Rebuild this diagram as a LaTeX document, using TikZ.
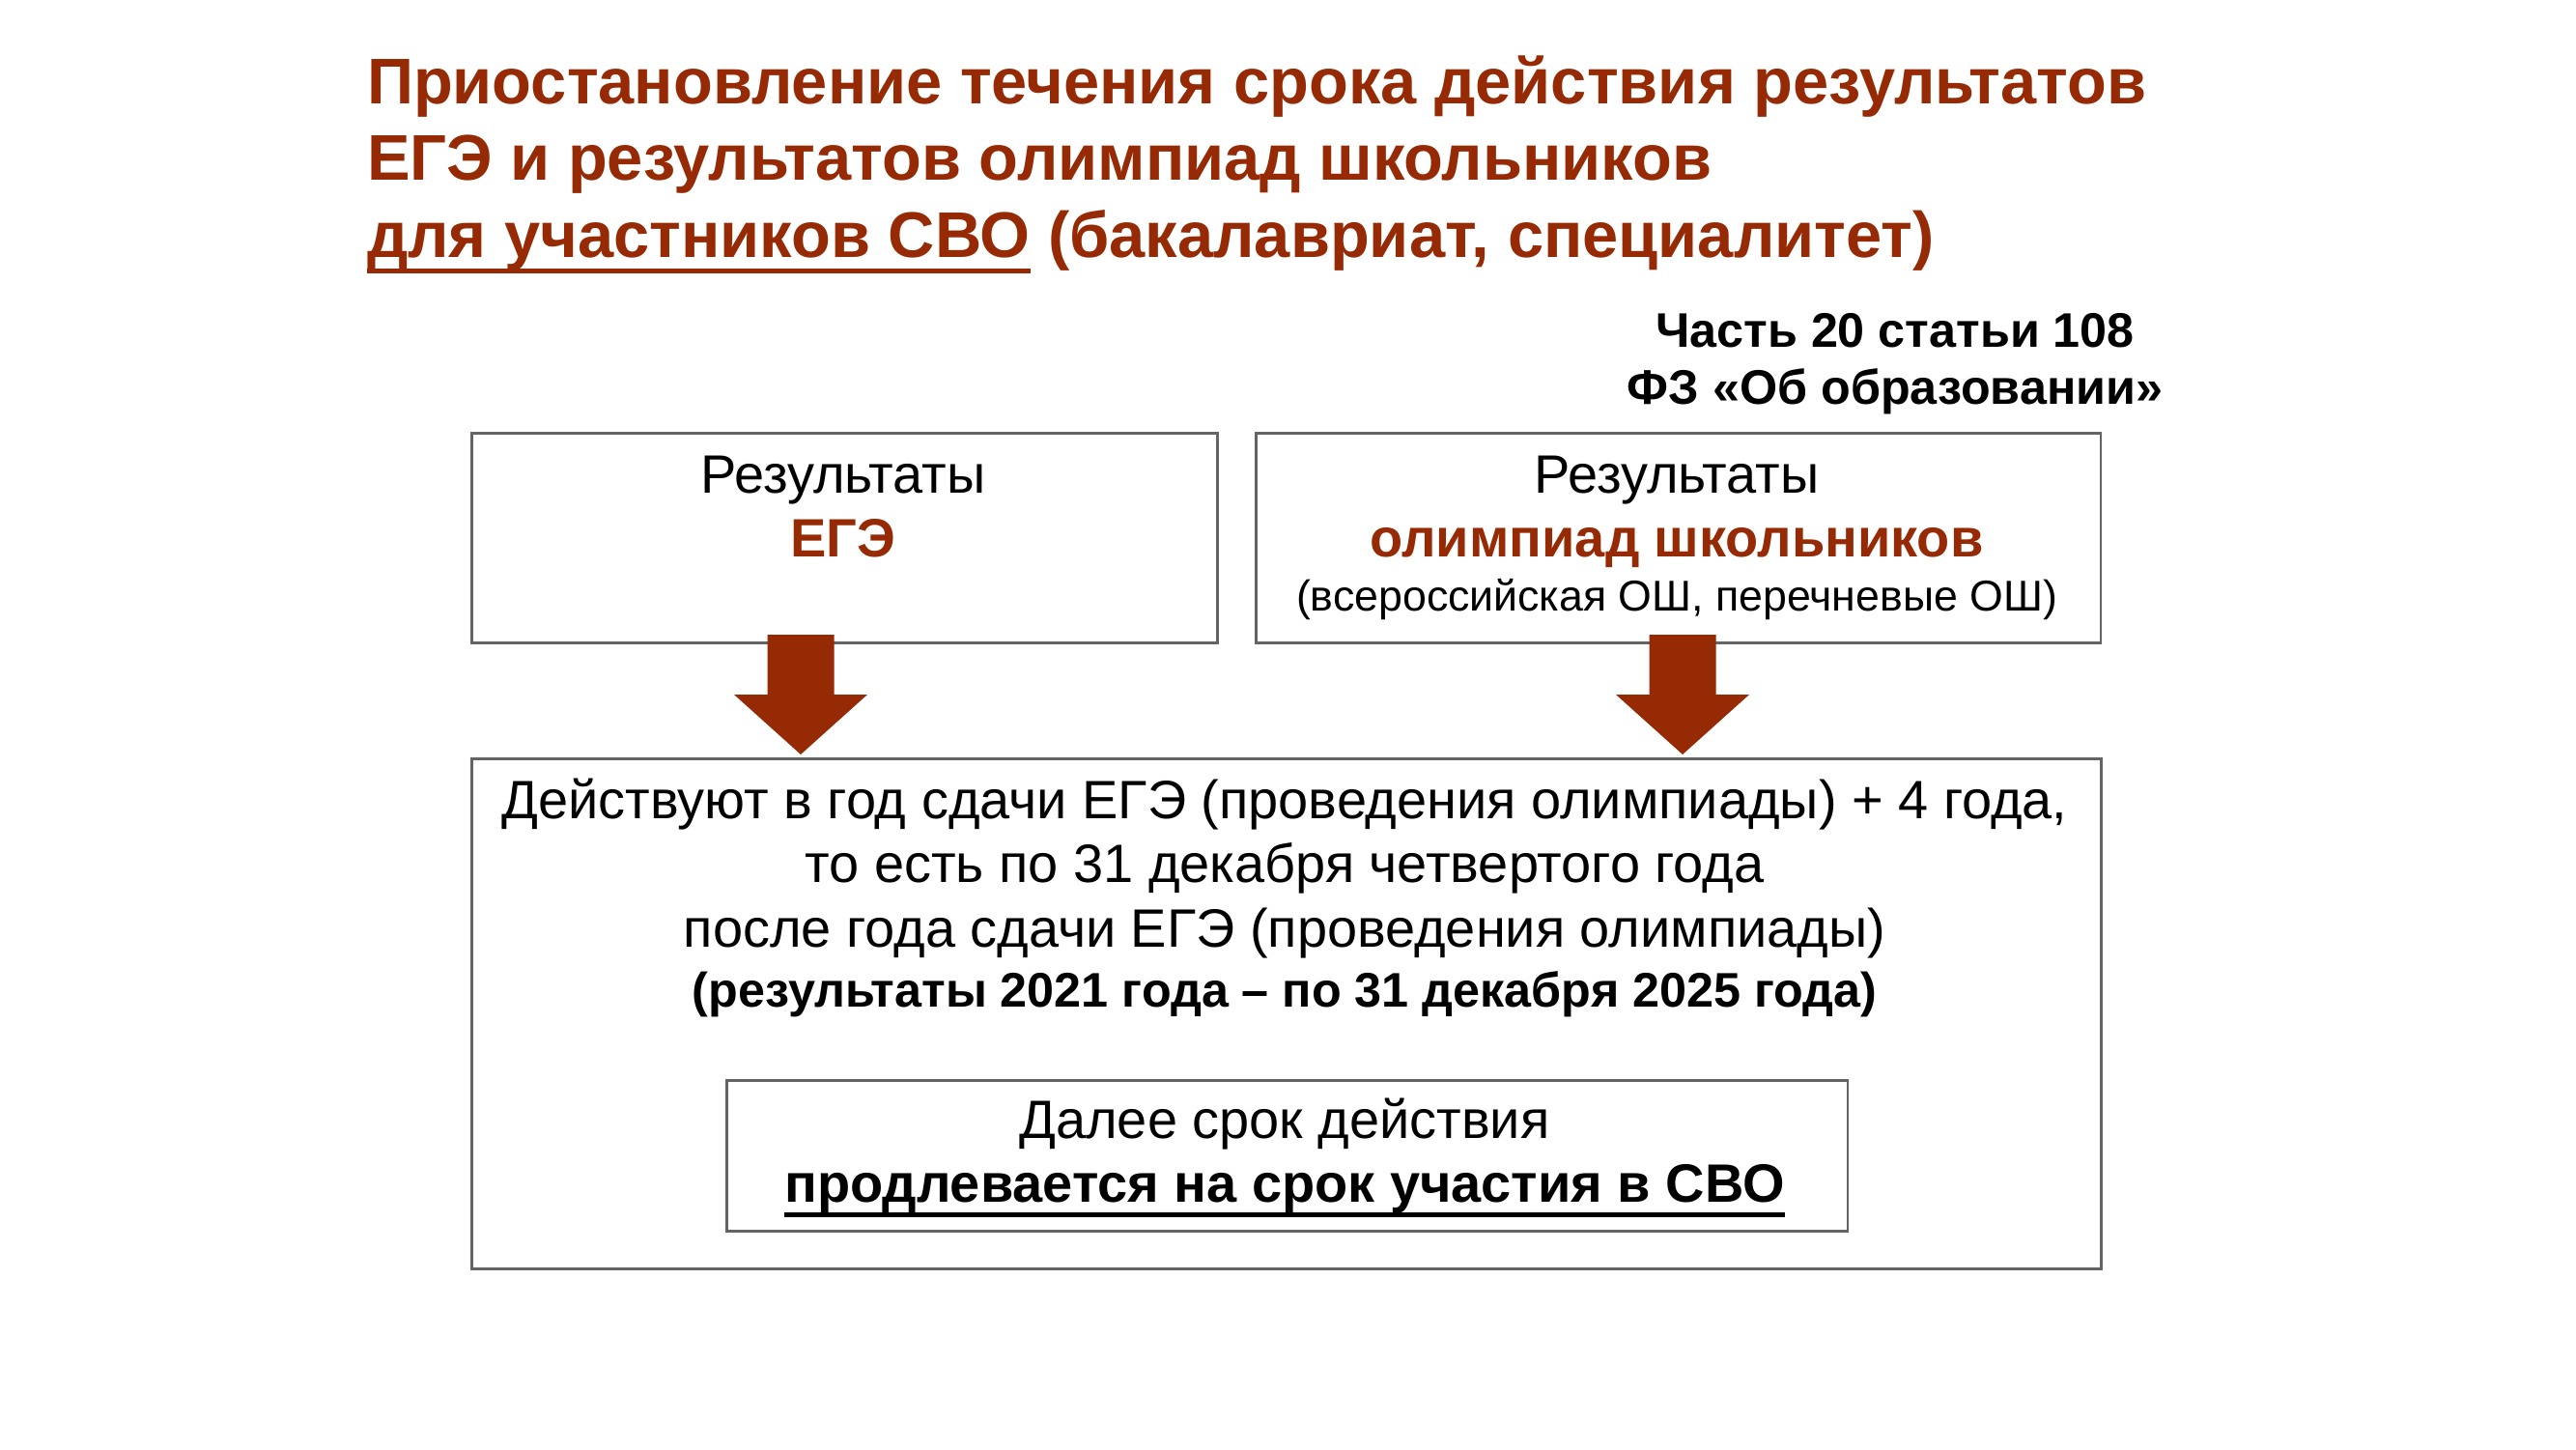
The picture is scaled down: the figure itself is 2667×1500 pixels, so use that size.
\documentclass[tikz,border=0pt]{standalone}
\usepackage{fontspec}
\setmainfont{Liberation Sans}
\definecolor{maroon}{RGB}{150,42,5}
\definecolor{boxgray}{RGB}{100,100,100}
\tikzset{
  box/.style={draw=boxgray,line width=0.75pt,fill=white,inner sep=0pt,anchor=north west},
  txt/.style={anchor=base,inner sep=0pt,outer sep=0pt},
  titletxt/.style={txt,anchor=base west,text=maroon,font=\fontsize{19}{22}\selectfont\bfseries},
  lawtxt/.style={txt,font=\fontsize{14.3}{17}\selectfont\bfseries},
  bodytxt/.style={txt,font=\fontsize{15.9}{19}\selectfont},
  boldbody/.style={bodytxt,font=\fontsize{15.9}{19}\selectfont\bfseries},
  bigarrow/.style={fill=maroon,draw=none},
  uline/.style={line width=1.4pt}
}
\begin{document}
\begin{tikzpicture}[x=0.01cm,y=-0.01cm]
\useasboundingbox[fill=white] (0,0) rectangle (2667,1500);
% title
\node[titletxt] (t1) at (380,108) {Приостановление течения срока действия результатов};
\node[titletxt] (t2) at (380,187) {ЕГЭ и результатов олимпиад школьников};
\node[titletxt] (t3a) at (380,266) {для участников СВО};
\node[titletxt] (t3b) at (t3a.base east) {\ (бакалавриат, специалитет)};
\draw[uline,draw=maroon] ([yshift=-4.2pt]t3a.base west) -- ([yshift=-4.2pt]t3a.base east);
% law reference
\node[lawtxt] (law1) at (1962,359) {Часть 20 статьи 108};
\node[lawtxt] (law2) at (1962,418) {ФЗ «Об образовании»};
% boxes
\node[box,minimum width=7.72cm,minimum height=2.17cm] (ege) at (487,447) {};
\node[box,minimum width=8.74cm,minimum height=2.17cm] (olymp) at (1299,447) {};
\node[box,minimum width=16.86cm,minimum height=5.28cm] (valid) at (487,784) {};
% arrows
\coordinate (a1) at (829,657);
\coordinate (a2) at (1742,657);
\fill[bigarrow] (a1) ++(-34.5,0) -- ++(69,0) -- ++(0,62) -- ++(34.5,0) -- ++(-69,62) -- ++(-69,-62) -- ++(34.5,0) -- cycle;
\fill[bigarrow] (a2) ++(-34.5,0) -- ++(69,0) -- ++(0,62) -- ++(34.5,0) -- ++(-69,62) -- ++(-69,-62) -- ++(34.5,0) -- cycle;
% inner box
\node[box,minimum width=11.60cm,minimum height=1.56cm] (ext) at (751,1117) {};
% box texts
\node[bodytxt] (egeR) at (873,510) {Результаты};
\node[boldbody,text=maroon] (egeE) at (873,576) {ЕГЭ};
\node[bodytxt] (olR) at (1736,510) {Результаты};
\node[boldbody,text=maroon] (olO) at (1736,576) {олимпиад школьников};
\node[bodytxt,font=\fontsize{12.7}{15}\selectfont] (olS) at (1736,632) {(всероссийская ОШ, перечневые ОШ)};
% main text
\node[bodytxt] (m1) at (1330,847) {Действуют в год сдачи ЕГЭ (проведения олимпиады) + 4 года,};
\node[bodytxt] (m2) at (1330,913) {то есть по 31 декабря четвертого года};
\node[bodytxt] (m3) at (1330,980) {после года сдачи ЕГЭ (проведения олимпиады)};
\node[boldbody,font=\fontsize{14.3}{17}\selectfont\bfseries] (m4) at (1330,1042) {(результаты 2021 года – по 31 декабря 2025 года)};
\node[bodytxt] (i1) at (1330,1178) {Далее срок действия};
\node[boldbody] (i2) at (1330,1244) {продлевается на срок участия в СВО};
\draw[uline] ([yshift=-3.8pt]i2.base west) -- ([yshift=-3.8pt]i2.base east);
\end{tikzpicture}
\end{document}
